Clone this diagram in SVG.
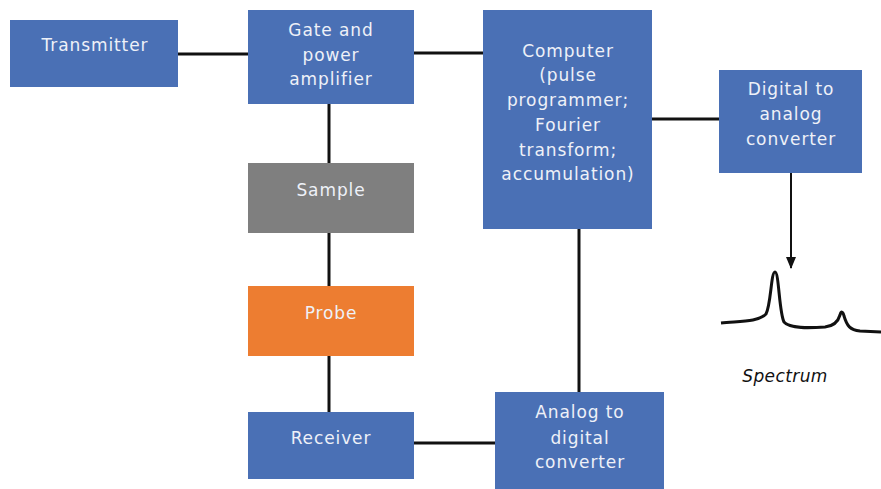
<svg xmlns="http://www.w3.org/2000/svg" width="881" height="489" viewBox="0 0 881 489">
  <style>
    .box { fill: #4a70b5; }
    .grey { fill: #7f7f7f; }
    .orange { fill: #ed7d31; }
    .lbl { font-family: "DejaVu Sans", "Liberation Sans", sans-serif; font-size: 17px; letter-spacing: 0.9px; fill: #eef1f8; text-anchor: middle; }
    .wire { stroke: #111; stroke-width: 3; fill: none; }
    .cap { font-family: "DejaVu Sans", "Liberation Sans", sans-serif; font-size: 17px; letter-spacing: 0.4px; font-style: italic; fill: #111; text-anchor: middle; }
  </style>
  <defs>
    <marker id="arrow" markerWidth="12" markerHeight="10" refX="11" refY="5" orient="auto" markerUnits="userSpaceOnUse">
      <path d="M0,0 L12,5 L0,10 Z" fill="#111"/>
    </marker>
  </defs>

  <!-- connectors -->
  <g id="connectors">
    <line class="wire" x1="178" y1="54" x2="248" y2="54"/>
    <line class="wire" x1="414" y1="53" x2="483" y2="53"/>
    <line class="wire" x1="652" y1="119" x2="719" y2="119"/>
    <line class="wire" x1="329" y1="104" x2="329" y2="163"/>
    <line class="wire" x1="329" y1="233" x2="329" y2="286"/>
    <line class="wire" x1="329" y1="356" x2="329" y2="412"/>
    <line class="wire" x1="579" y1="229" x2="579" y2="392"/>
    <line class="wire" x1="414" y1="443" x2="495" y2="443"/>
    <line stroke="#111" stroke-width="2" x1="791" y1="173" x2="791" y2="268" marker-end="url(#arrow)"/>
  </g>

  <g id="transmitter">
    <rect class="box" x="10" y="20" width="168" height="67"/>
    <text class="lbl" x="95" y="51">Transmitter</text>
  </g>

  <g id="gate">
    <rect class="box" x="248" y="10" width="166" height="94"/>
    <text class="lbl" x="331" y="36">Gate and</text>
    <text class="lbl" x="331" y="61">power</text>
    <text class="lbl" x="331" y="85">amplifier</text>
  </g>

  <g id="computer">
    <rect class="box" x="483" y="10" width="169" height="219"/>
    <text class="lbl" x="568" y="57">Computer</text>
    <text class="lbl" x="568" y="81">(pulse</text>
    <text class="lbl" x="568" y="106">programmer;</text>
    <text class="lbl" x="568" y="131">Fourier</text>
    <text class="lbl" x="568" y="156">transform;</text>
    <text class="lbl" x="568" y="180">accumulation)</text>
  </g>

  <g id="dac">
    <rect class="box" x="719" y="70" width="143" height="103"/>
    <text class="lbl" x="791" y="95">Digital to</text>
    <text class="lbl" x="791" y="120">analog</text>
    <text class="lbl" x="791" y="145">converter</text>
  </g>

  <g id="sample">
    <rect class="grey" x="248" y="163" width="166" height="70"/>
    <text class="lbl" x="331" y="196">Sample</text>
  </g>

  <g id="probe">
    <rect class="orange" x="248" y="286" width="166" height="70"/>
    <text class="lbl" x="331" y="319">Probe</text>
  </g>

  <g id="receiver">
    <rect class="box" x="248" y="412" width="166" height="67"/>
    <text class="lbl" x="331" y="444">Receiver</text>
  </g>

  <g id="adc">
    <rect class="box" x="495" y="392" width="169" height="97"/>
    <text class="lbl" x="580" y="418">Analog to</text>
    <text class="lbl" x="580" y="444">digital</text>
    <text class="lbl" x="580" y="468">converter</text>
  </g>

  <!-- spectrum trace -->
  <g id="spectrum">
    <path class="wire" d="M721,323 C740,321 758,322 766,314 C771,305 771,272 775,272 C779,272 779,312 784,322 C790,329 810,328 825,327 C834,326 838,322 840,315 C841,311 843,311 844,316 C847,326 850,330 860,331 L881,332"/>
    <text class="cap" x="785" y="382">Spectrum</text>
  </g>
</svg>
